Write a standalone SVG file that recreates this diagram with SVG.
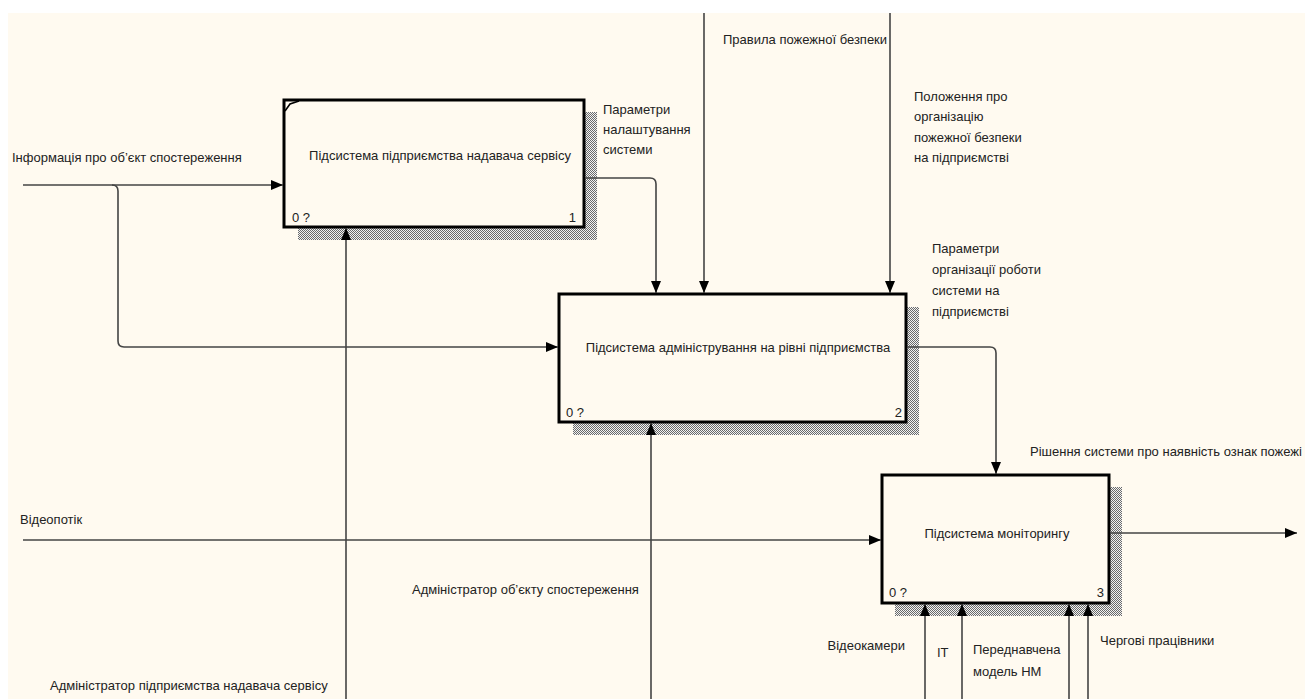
<svg xmlns="http://www.w3.org/2000/svg" width="1305" height="699" viewBox="0 0 1305 699">
<style>
text{font-family:"Liberation Sans",Arial,sans-serif;font-size:13px;fill:#222}
.box{fill:#FFFAF0;stroke:#000;stroke-width:3}
.sh{fill:url(#hatch)}
.c{fill:none;stroke:#444;stroke-width:1.6}
.a{marker-end:url(#arr)}
.mid{text-anchor:middle}
.end{text-anchor:end}
</style>
<defs>
<pattern id="hatch" width="2" height="2" patternUnits="userSpaceOnUse">
<rect width="2" height="2" fill="#f2f2f2"/>
<rect width="1" height="1" fill="#6a6a6a"/>
<rect x="1" y="1" width="1" height="1" fill="#6a6a6a"/>
</pattern>
<marker id="arr" markerUnits="userSpaceOnUse" markerWidth="12" markerHeight="10" refX="12" refY="5" orient="auto">
<path d="M0,0 L12,5 L0,10 z" fill="#000"/>
</marker>
</defs>
<rect width="1305" height="699" fill="#fff"/>
<rect x="8" y="13" width="1297" height="686" fill="#FFFAF0"/>

<g id="node1">
<path class="sh" d="M584,112 H597 V240 H298 V227 H584 Z"/>
<rect class="box" x="284" y="100" width="300" height="127"/>
<path d="M285,111 L290,104 L299,101" fill="none" stroke="#000" stroke-width="1.6"/>
<text x="440" y="160" class="mid">Підсистема підприємства надавача сервісу</text>
<text x="292" y="222">0 ?</text>
<text x="576" y="222" class="end">1</text>
</g>

<g id="node2">
<path class="sh" d="M906,307 H919 V435 H573 V422 H906 Z"/>
<rect class="box" x="559" y="294" width="347" height="128"/>
<text x="738" y="352" class="mid">Підсистема адміністрування на рівні підприємства</text>
<text x="566" y="417">0 ?</text>
<text x="902" y="417" class="end">2</text>
</g>

<g id="node3">
<path class="sh" d="M1109,487 H1122 V616 H895 V603 H1109 Z"/>
<rect class="box" x="882" y="475" width="227" height="128"/>
<text x="997" y="538" class="mid">Підсистема моніторингу</text>
<text x="889" y="597">0 ?</text>
<text x="1104" y="597" class="end">3</text>
</g>

<g id="connectors">
<path class="c a" d="M23,185 H283"/>
<path class="c a" d="M112,185 Q118,185 118,191 V341 Q118,347 124,347 H558"/>
<path class="c a" d="M585,178 H650 Q656,178 656,184 V293"/>
<path class="c a" d="M704,13 V293"/>
<path class="c a" d="M890,13 V293"/>
<path class="c a" d="M907,347 H990 Q996,347 996,353 V474"/>
<path class="c a" d="M23,540 H881"/>
<path class="c a" d="M651,699 V423"/>
<path class="c a" d="M346,699 V228"/>
<path class="c a" d="M925,699 V604"/>
<path class="c a" d="M962,699 V604"/>
<path class="c a" d="M1069,699 V604"/>
<path class="c a" d="M1088,699 V604"/>
<path class="c a" d="M1110,533 H1297"/>
</g>

<g id="labels">
<text x="12" y="162">Інформація про об’єкт спостереження</text>
<text x="603" y="114">Параметри</text>
<text x="603" y="134">налаштування</text>
<text x="603" y="154">системи</text>
<text x="723" y="44">Правила пожежної безпеки</text>
<text x="914" y="101">Положення про</text>
<text x="914" y="121">організацію</text>
<text x="914" y="142">пожежної безпеки</text>
<text x="914" y="162">на підприємстві</text>
<text x="932" y="253">Параметри</text>
<text x="932" y="274">організації роботи</text>
<text x="932" y="295">системи на</text>
<text x="932" y="316">підприємстві</text>
<text x="1030" y="456">Рішення системи про наявність ознак пожежі</text>
<text x="20" y="524">Відеопотік</text>
<text x="412" y="594">Адміністратор об’єкту спостереження</text>
<text x="50" y="690">Адміністратор підприємства надавача сервісу</text>
<text x="905" y="650" class="end">Відеокамери</text>
<text x="937" y="657">IT</text>
<text x="973" y="654">Переднавчена</text>
<text x="973" y="676">модель НМ</text>
<text x="1100" y="645">Чергові працівники</text>
</g>
</svg>
